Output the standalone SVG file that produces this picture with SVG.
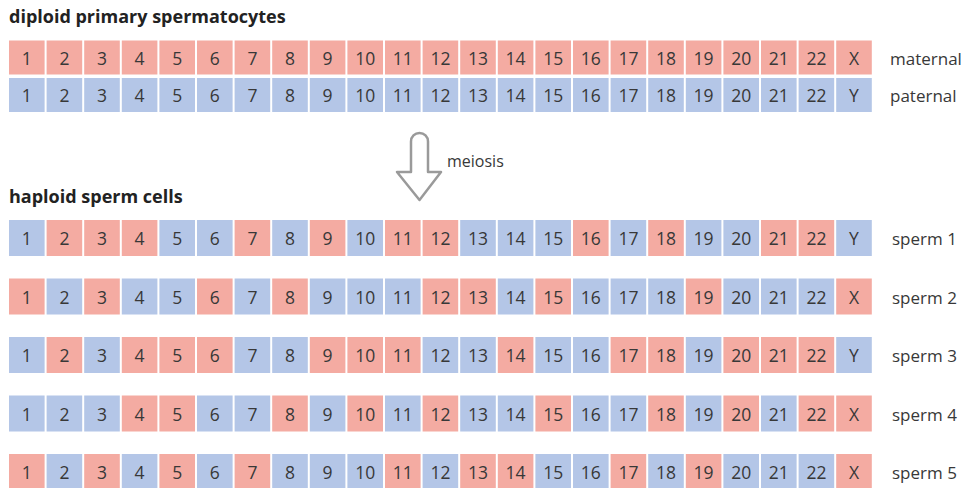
<svg xmlns="http://www.w3.org/2000/svg" width="970" height="488" viewBox="0 0 970 488">
<style>
text{font-family:"Open Sans","Noto Sans","Liberation Sans",sans-serif;fill:#383838}
.h{font-size:18px;font-weight:bold;fill:#222}
.lbl{font-size:17px}
.c text{font-size:17.5px;text-anchor:middle}
.m rect{fill:#f4aba2}
.p rect{fill:#b4c6e7}
.arrow{fill:#fff;stroke:#9a9a9a;stroke-width:2.5;stroke-linejoin:round}
</style>
<rect width="970" height="488" fill="#fff"/>
<text class="h" x="9" y="23">diploid primary spermatocytes</text>
<text class="h" x="9" y="203">haploid sperm cells</text>

<g id="maternal" class="c" transform="translate(0,40.5)">
<g id="mat1" class="m"><rect x="9" width="35.6" height="34"/><text x="26.8" y="24">1</text></g>
<g id="mat2" class="m"><rect x="46.6" width="35.6" height="34"/><text x="64.4" y="24">2</text></g>
<g id="mat3" class="m"><rect x="84.2" width="35.6" height="34"/><text x="102" y="24">3</text></g>
<g id="mat4" class="m"><rect x="121.8" width="35.6" height="34"/><text x="139.6" y="24">4</text></g>
<g id="mat5" class="m"><rect x="159.4" width="35.6" height="34"/><text x="177.2" y="24">5</text></g>
<g id="mat6" class="m"><rect x="197" width="35.6" height="34"/><text x="214.8" y="24">6</text></g>
<g id="mat7" class="m"><rect x="234.6" width="35.6" height="34"/><text x="252.4" y="24">7</text></g>
<g id="mat8" class="m"><rect x="272.2" width="35.6" height="34"/><text x="290" y="24">8</text></g>
<g id="mat9" class="m"><rect x="309.8" width="35.6" height="34"/><text x="327.6" y="24">9</text></g>
<g id="mat10" class="m"><rect x="347.4" width="35.6" height="34"/><text x="365.2" y="24">10</text></g>
<g id="mat11" class="m"><rect x="385" width="35.6" height="34"/><text x="402.8" y="24">11</text></g>
<g id="mat12" class="m"><rect x="422.6" width="35.6" height="34"/><text x="440.4" y="24">12</text></g>
<g id="mat13" class="m"><rect x="460.2" width="35.6" height="34"/><text x="478" y="24">13</text></g>
<g id="mat14" class="m"><rect x="497.8" width="35.6" height="34"/><text x="515.6" y="24">14</text></g>
<g id="mat15" class="m"><rect x="535.4" width="35.6" height="34"/><text x="553.2" y="24">15</text></g>
<g id="mat16" class="m"><rect x="573" width="35.6" height="34"/><text x="590.8" y="24">16</text></g>
<g id="mat17" class="m"><rect x="610.6" width="35.6" height="34"/><text x="628.4" y="24">17</text></g>
<g id="mat18" class="m"><rect x="648.2" width="35.6" height="34"/><text x="666" y="24">18</text></g>
<g id="mat19" class="m"><rect x="685.8" width="35.6" height="34"/><text x="703.6" y="24">19</text></g>
<g id="mat20" class="m"><rect x="723.4" width="35.6" height="34"/><text x="741.2" y="24">20</text></g>
<g id="mat21" class="m"><rect x="761" width="35.6" height="34"/><text x="778.8" y="24">21</text></g>
<g id="mat22" class="m"><rect x="798.6" width="35.6" height="34"/><text x="816.4" y="24">22</text></g>
<g id="matX" class="m"><rect x="836.2" width="35.6" height="34"/><text x="854" y="24">X</text></g>
</g>
<text class="lbl" x="890" y="65">maternal</text>

<g id="paternal" class="c" transform="translate(0,78)">
<g id="pat1" class="p"><rect x="9" width="35.6" height="34"/><text x="26.8" y="24">1</text></g>
<g id="pat2" class="p"><rect x="46.6" width="35.6" height="34"/><text x="64.4" y="24">2</text></g>
<g id="pat3" class="p"><rect x="84.2" width="35.6" height="34"/><text x="102" y="24">3</text></g>
<g id="pat4" class="p"><rect x="121.8" width="35.6" height="34"/><text x="139.6" y="24">4</text></g>
<g id="pat5" class="p"><rect x="159.4" width="35.6" height="34"/><text x="177.2" y="24">5</text></g>
<g id="pat6" class="p"><rect x="197" width="35.6" height="34"/><text x="214.8" y="24">6</text></g>
<g id="pat7" class="p"><rect x="234.6" width="35.6" height="34"/><text x="252.4" y="24">7</text></g>
<g id="pat8" class="p"><rect x="272.2" width="35.6" height="34"/><text x="290" y="24">8</text></g>
<g id="pat9" class="p"><rect x="309.8" width="35.6" height="34"/><text x="327.6" y="24">9</text></g>
<g id="pat10" class="p"><rect x="347.4" width="35.6" height="34"/><text x="365.2" y="24">10</text></g>
<g id="pat11" class="p"><rect x="385" width="35.6" height="34"/><text x="402.8" y="24">11</text></g>
<g id="pat12" class="p"><rect x="422.6" width="35.6" height="34"/><text x="440.4" y="24">12</text></g>
<g id="pat13" class="p"><rect x="460.2" width="35.6" height="34"/><text x="478" y="24">13</text></g>
<g id="pat14" class="p"><rect x="497.8" width="35.6" height="34"/><text x="515.6" y="24">14</text></g>
<g id="pat15" class="p"><rect x="535.4" width="35.6" height="34"/><text x="553.2" y="24">15</text></g>
<g id="pat16" class="p"><rect x="573" width="35.6" height="34"/><text x="590.8" y="24">16</text></g>
<g id="pat17" class="p"><rect x="610.6" width="35.6" height="34"/><text x="628.4" y="24">17</text></g>
<g id="pat18" class="p"><rect x="648.2" width="35.6" height="34"/><text x="666" y="24">18</text></g>
<g id="pat19" class="p"><rect x="685.8" width="35.6" height="34"/><text x="703.6" y="24">19</text></g>
<g id="pat20" class="p"><rect x="723.4" width="35.6" height="34"/><text x="741.2" y="24">20</text></g>
<g id="pat21" class="p"><rect x="761" width="35.6" height="34"/><text x="778.8" y="24">21</text></g>
<g id="pat22" class="p"><rect x="798.6" width="35.6" height="34"/><text x="816.4" y="24">22</text></g>
<g id="patY" class="p"><rect x="836.2" width="35.6" height="34"/><text x="854" y="24">Y</text></g>
</g>
<text class="lbl" x="890" y="102">paternal</text>

<g id="connectors">
<path class="arrow" d="M411,172 L411,141.5 A8.5,8.5 0 0 1 428,141.5 L428,172 L441,172 L419.5,200 L397,172 Z"/>
</g>
<text class="lbl" x="447" y="167" style="font-size:16px">meiosis</text>

<g id="sperm1" class="c" transform="translate(0,220)">
<g class="p"><rect x="9" width="35.6" height="36"/><text x="26.8" y="25">1</text></g>
<g class="m"><rect x="46.6" width="35.6" height="36"/><text x="64.4" y="25">2</text></g>
<g class="m"><rect x="84.2" width="35.6" height="36"/><text x="102" y="25">3</text></g>
<g class="m"><rect x="121.8" width="35.6" height="36"/><text x="139.6" y="25">4</text></g>
<g class="p"><rect x="159.4" width="35.6" height="36"/><text x="177.2" y="25">5</text></g>
<g class="p"><rect x="197" width="35.6" height="36"/><text x="214.8" y="25">6</text></g>
<g class="m"><rect x="234.6" width="35.6" height="36"/><text x="252.4" y="25">7</text></g>
<g class="p"><rect x="272.2" width="35.6" height="36"/><text x="290" y="25">8</text></g>
<g class="m"><rect x="309.8" width="35.6" height="36"/><text x="327.6" y="25">9</text></g>
<g class="p"><rect x="347.4" width="35.6" height="36"/><text x="365.2" y="25">10</text></g>
<g class="m"><rect x="385" width="35.6" height="36"/><text x="402.8" y="25">11</text></g>
<g class="m"><rect x="422.6" width="35.6" height="36"/><text x="440.4" y="25">12</text></g>
<g class="p"><rect x="460.2" width="35.6" height="36"/><text x="478" y="25">13</text></g>
<g class="p"><rect x="497.8" width="35.6" height="36"/><text x="515.6" y="25">14</text></g>
<g class="p"><rect x="535.4" width="35.6" height="36"/><text x="553.2" y="25">15</text></g>
<g class="m"><rect x="573" width="35.6" height="36"/><text x="590.8" y="25">16</text></g>
<g class="p"><rect x="610.6" width="35.6" height="36"/><text x="628.4" y="25">17</text></g>
<g class="m"><rect x="648.2" width="35.6" height="36"/><text x="666" y="25">18</text></g>
<g class="p"><rect x="685.8" width="35.6" height="36"/><text x="703.6" y="25">19</text></g>
<g class="p"><rect x="723.4" width="35.6" height="36"/><text x="741.2" y="25">20</text></g>
<g class="m"><rect x="761" width="35.6" height="36"/><text x="778.8" y="25">21</text></g>
<g class="m"><rect x="798.6" width="35.6" height="36"/><text x="816.4" y="25">22</text></g>
<g class="p"><rect x="836.2" width="35.6" height="36"/><text x="854" y="25">Y</text></g>
</g>
<text class="lbl" x="892" y="245">sperm 1</text>

<g id="sperm2" class="c" transform="translate(0,278.5)">
<g class="m"><rect x="9" width="35.6" height="36"/><text x="26.8" y="25">1</text></g>
<g class="p"><rect x="46.6" width="35.6" height="36"/><text x="64.4" y="25">2</text></g>
<g class="m"><rect x="84.2" width="35.6" height="36"/><text x="102" y="25">3</text></g>
<g class="p"><rect x="121.8" width="35.6" height="36"/><text x="139.6" y="25">4</text></g>
<g class="p"><rect x="159.4" width="35.6" height="36"/><text x="177.2" y="25">5</text></g>
<g class="m"><rect x="197" width="35.6" height="36"/><text x="214.8" y="25">6</text></g>
<g class="p"><rect x="234.6" width="35.6" height="36"/><text x="252.4" y="25">7</text></g>
<g class="m"><rect x="272.2" width="35.6" height="36"/><text x="290" y="25">8</text></g>
<g class="p"><rect x="309.8" width="35.6" height="36"/><text x="327.6" y="25">9</text></g>
<g class="p"><rect x="347.4" width="35.6" height="36"/><text x="365.2" y="25">10</text></g>
<g class="p"><rect x="385" width="35.6" height="36"/><text x="402.8" y="25">11</text></g>
<g class="m"><rect x="422.6" width="35.6" height="36"/><text x="440.4" y="25">12</text></g>
<g class="m"><rect x="460.2" width="35.6" height="36"/><text x="478" y="25">13</text></g>
<g class="p"><rect x="497.8" width="35.6" height="36"/><text x="515.6" y="25">14</text></g>
<g class="m"><rect x="535.4" width="35.6" height="36"/><text x="553.2" y="25">15</text></g>
<g class="p"><rect x="573" width="35.6" height="36"/><text x="590.8" y="25">16</text></g>
<g class="p"><rect x="610.6" width="35.6" height="36"/><text x="628.4" y="25">17</text></g>
<g class="p"><rect x="648.2" width="35.6" height="36"/><text x="666" y="25">18</text></g>
<g class="m"><rect x="685.8" width="35.6" height="36"/><text x="703.6" y="25">19</text></g>
<g class="p"><rect x="723.4" width="35.6" height="36"/><text x="741.2" y="25">20</text></g>
<g class="p"><rect x="761" width="35.6" height="36"/><text x="778.8" y="25">21</text></g>
<g class="p"><rect x="798.6" width="35.6" height="36"/><text x="816.4" y="25">22</text></g>
<g class="m"><rect x="836.2" width="35.6" height="36"/><text x="854" y="25">X</text></g>
</g>
<text class="lbl" x="892" y="303.5">sperm 2</text>

<g id="sperm3" class="c" transform="translate(0,337)">
<g class="p"><rect x="9" width="35.6" height="36"/><text x="26.8" y="25">1</text></g>
<g class="m"><rect x="46.6" width="35.6" height="36"/><text x="64.4" y="25">2</text></g>
<g class="p"><rect x="84.2" width="35.6" height="36"/><text x="102" y="25">3</text></g>
<g class="m"><rect x="121.8" width="35.6" height="36"/><text x="139.6" y="25">4</text></g>
<g class="m"><rect x="159.4" width="35.6" height="36"/><text x="177.2" y="25">5</text></g>
<g class="m"><rect x="197" width="35.6" height="36"/><text x="214.8" y="25">6</text></g>
<g class="p"><rect x="234.6" width="35.6" height="36"/><text x="252.4" y="25">7</text></g>
<g class="p"><rect x="272.2" width="35.6" height="36"/><text x="290" y="25">8</text></g>
<g class="m"><rect x="309.8" width="35.6" height="36"/><text x="327.6" y="25">9</text></g>
<g class="m"><rect x="347.4" width="35.6" height="36"/><text x="365.2" y="25">10</text></g>
<g class="m"><rect x="385" width="35.6" height="36"/><text x="402.8" y="25">11</text></g>
<g class="p"><rect x="422.6" width="35.6" height="36"/><text x="440.4" y="25">12</text></g>
<g class="p"><rect x="460.2" width="35.6" height="36"/><text x="478" y="25">13</text></g>
<g class="m"><rect x="497.8" width="35.6" height="36"/><text x="515.6" y="25">14</text></g>
<g class="p"><rect x="535.4" width="35.6" height="36"/><text x="553.2" y="25">15</text></g>
<g class="p"><rect x="573" width="35.6" height="36"/><text x="590.8" y="25">16</text></g>
<g class="m"><rect x="610.6" width="35.6" height="36"/><text x="628.4" y="25">17</text></g>
<g class="m"><rect x="648.2" width="35.6" height="36"/><text x="666" y="25">18</text></g>
<g class="p"><rect x="685.8" width="35.6" height="36"/><text x="703.6" y="25">19</text></g>
<g class="m"><rect x="723.4" width="35.6" height="36"/><text x="741.2" y="25">20</text></g>
<g class="m"><rect x="761" width="35.6" height="36"/><text x="778.8" y="25">21</text></g>
<g class="m"><rect x="798.6" width="35.6" height="36"/><text x="816.4" y="25">22</text></g>
<g class="p"><rect x="836.2" width="35.6" height="36"/><text x="854" y="25">Y</text></g>
</g>
<text class="lbl" x="892" y="362">sperm 3</text>

<g id="sperm4" class="c" transform="translate(0,395.5)">
<g class="p"><rect x="9" width="35.6" height="36"/><text x="26.8" y="25">1</text></g>
<g class="p"><rect x="46.6" width="35.6" height="36"/><text x="64.4" y="25">2</text></g>
<g class="p"><rect x="84.2" width="35.6" height="36"/><text x="102" y="25">3</text></g>
<g class="m"><rect x="121.8" width="35.6" height="36"/><text x="139.6" y="25">4</text></g>
<g class="m"><rect x="159.4" width="35.6" height="36"/><text x="177.2" y="25">5</text></g>
<g class="p"><rect x="197" width="35.6" height="36"/><text x="214.8" y="25">6</text></g>
<g class="p"><rect x="234.6" width="35.6" height="36"/><text x="252.4" y="25">7</text></g>
<g class="m"><rect x="272.2" width="35.6" height="36"/><text x="290" y="25">8</text></g>
<g class="p"><rect x="309.8" width="35.6" height="36"/><text x="327.6" y="25">9</text></g>
<g class="m"><rect x="347.4" width="35.6" height="36"/><text x="365.2" y="25">10</text></g>
<g class="p"><rect x="385" width="35.6" height="36"/><text x="402.8" y="25">11</text></g>
<g class="m"><rect x="422.6" width="35.6" height="36"/><text x="440.4" y="25">12</text></g>
<g class="p"><rect x="460.2" width="35.6" height="36"/><text x="478" y="25">13</text></g>
<g class="p"><rect x="497.8" width="35.6" height="36"/><text x="515.6" y="25">14</text></g>
<g class="m"><rect x="535.4" width="35.6" height="36"/><text x="553.2" y="25">15</text></g>
<g class="p"><rect x="573" width="35.6" height="36"/><text x="590.8" y="25">16</text></g>
<g class="p"><rect x="610.6" width="35.6" height="36"/><text x="628.4" y="25">17</text></g>
<g class="m"><rect x="648.2" width="35.6" height="36"/><text x="666" y="25">18</text></g>
<g class="p"><rect x="685.8" width="35.6" height="36"/><text x="703.6" y="25">19</text></g>
<g class="m"><rect x="723.4" width="35.6" height="36"/><text x="741.2" y="25">20</text></g>
<g class="p"><rect x="761" width="35.6" height="36"/><text x="778.8" y="25">21</text></g>
<g class="m"><rect x="798.6" width="35.6" height="36"/><text x="816.4" y="25">22</text></g>
<g class="m"><rect x="836.2" width="35.6" height="36"/><text x="854" y="25">X</text></g>
</g>
<text class="lbl" x="892" y="420.5">sperm 4</text>

<g id="sperm5" class="c" transform="translate(0,454)">
<g class="m"><rect x="9" width="35.6" height="36"/><text x="26.8" y="25">1</text></g>
<g class="p"><rect x="46.6" width="35.6" height="36"/><text x="64.4" y="25">2</text></g>
<g class="m"><rect x="84.2" width="35.6" height="36"/><text x="102" y="25">3</text></g>
<g class="p"><rect x="121.8" width="35.6" height="36"/><text x="139.6" y="25">4</text></g>
<g class="m"><rect x="159.4" width="35.6" height="36"/><text x="177.2" y="25">5</text></g>
<g class="p"><rect x="197" width="35.6" height="36"/><text x="214.8" y="25">6</text></g>
<g class="m"><rect x="234.6" width="35.6" height="36"/><text x="252.4" y="25">7</text></g>
<g class="p"><rect x="272.2" width="35.6" height="36"/><text x="290" y="25">8</text></g>
<g class="p"><rect x="309.8" width="35.6" height="36"/><text x="327.6" y="25">9</text></g>
<g class="p"><rect x="347.4" width="35.6" height="36"/><text x="365.2" y="25">10</text></g>
<g class="m"><rect x="385" width="35.6" height="36"/><text x="402.8" y="25">11</text></g>
<g class="p"><rect x="422.6" width="35.6" height="36"/><text x="440.4" y="25">12</text></g>
<g class="m"><rect x="460.2" width="35.6" height="36"/><text x="478" y="25">13</text></g>
<g class="m"><rect x="497.8" width="35.6" height="36"/><text x="515.6" y="25">14</text></g>
<g class="p"><rect x="535.4" width="35.6" height="36"/><text x="553.2" y="25">15</text></g>
<g class="p"><rect x="573" width="35.6" height="36"/><text x="590.8" y="25">16</text></g>
<g class="m"><rect x="610.6" width="35.6" height="36"/><text x="628.4" y="25">17</text></g>
<g class="p"><rect x="648.2" width="35.6" height="36"/><text x="666" y="25">18</text></g>
<g class="m"><rect x="685.8" width="35.6" height="36"/><text x="703.6" y="25">19</text></g>
<g class="p"><rect x="723.4" width="35.6" height="36"/><text x="741.2" y="25">20</text></g>
<g class="p"><rect x="761" width="35.6" height="36"/><text x="778.8" y="25">21</text></g>
<g class="p"><rect x="798.6" width="35.6" height="36"/><text x="816.4" y="25">22</text></g>
<g class="m"><rect x="836.2" width="35.6" height="36"/><text x="854" y="25">X</text></g>
</g>
<text class="lbl" x="892" y="479">sperm 5</text>
</svg>
